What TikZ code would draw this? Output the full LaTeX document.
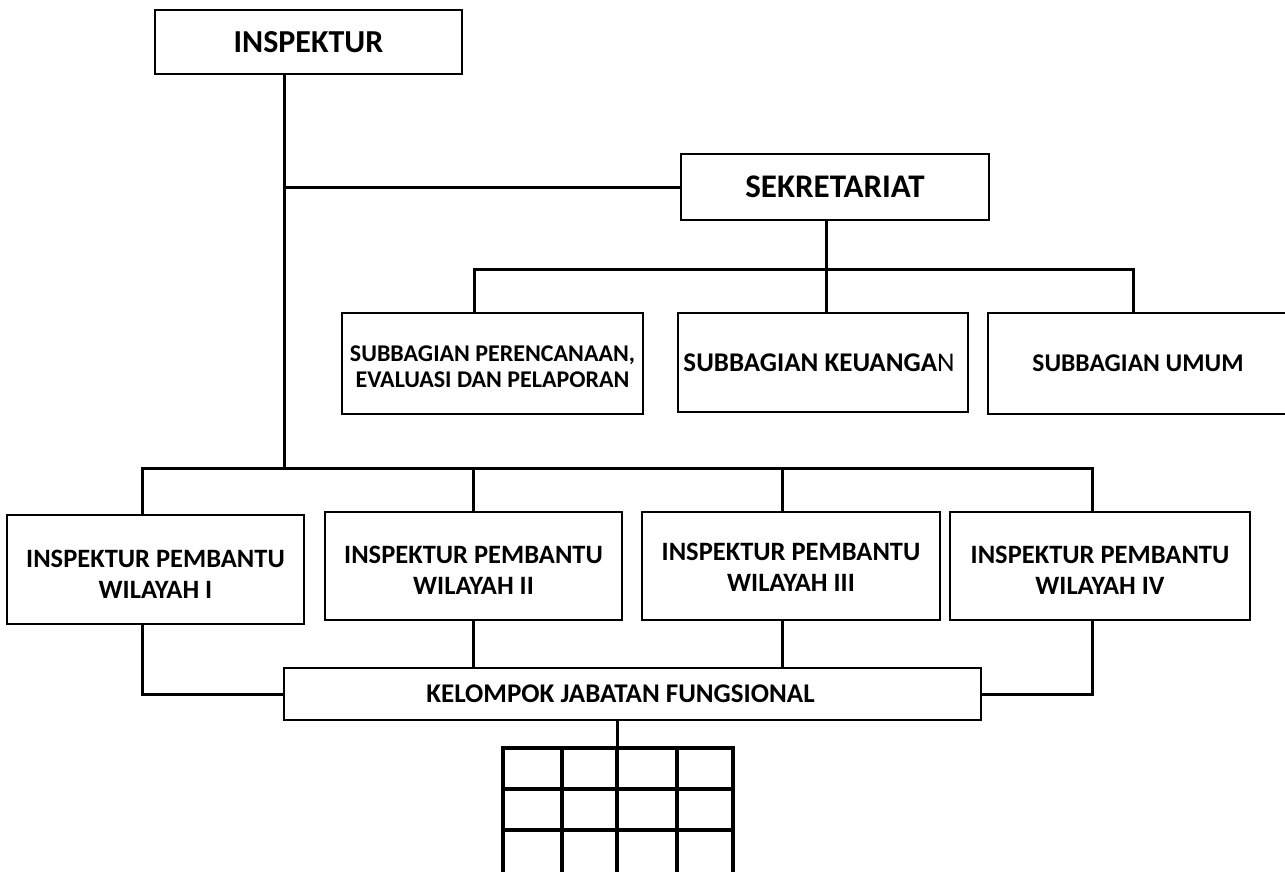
\documentclass[tikz,border=0pt]{standalone}
\usepackage{fontspec}
\setmainfont{Carlito}
\begin{document}
\begin{tikzpicture}[x=1pt,y=-1pt,
  box/.style={draw,line width=2.2pt,fill=white,inner sep=0pt,align=center,font=\bfseries},
  ipw/.style={box,minimum height=108pt,font=\bfseries\fontsize{26.5}{31}\selectfont,text height=57.5pt,text depth=0pt},
  conn/.style={line width=3pt},
  gridl/.style={line width=4pt}]
\useasboundingbox (0,0) rectangle (1285,871);
% nodes
\node[box,minimum width=307pt,minimum height=64pt,font=\bfseries\fontsize{32}{36}\selectfont] (insp) at (308.5,42) {INSPEKTUR};
\node[box,minimum width=308pt,minimum height=66pt,font=\bfseries\fontsize{33}{36}\selectfont] (sek) at (835,187) {SEKRETARIAT};
\node[box,minimum width=301pt,minimum height=101pt,font=\bfseries\fontsize{24}{26}\selectfont,text height=47pt,text depth=0pt] (sp) at (492.5,363.5) {SUBBAGIAN PERENCANAAN,\\EVALUASI DAN PELAPORAN};
\node[box,minimum width=290pt,minimum height=99pt,font=\bfseries\fontsize{27}{30}\selectfont] (sk) at (823,362.5) {SUBBAGIAN KEUANGA\mdseries N\hspace*{8pt}};
\node[box,minimum width=300pt,minimum height=101pt,font=\bfseries\fontsize{25.5}{30}\selectfont] (su) at (1138,363.5) {SUBBAGIAN UMUM};
\node[ipw,minimum width=297pt,minimum height=109pt] (ip1) at (155.5,569.5) {INSPEKTUR PEMBANTU\\WILAYAH I};
\node[ipw,minimum width=297pt] (ip2) at (473.5,566) {INSPEKTUR PEMBANTU\\WILAYAH II};
\node[ipw,minimum width=298pt,text height=51pt] (ip3) at (791,566) {INSPEKTUR PEMBANTU\\WILAYAH III};
\node[ipw,minimum width=300pt] (ip4) at (1100,566) {INSPEKTUR PEMBANTU\\WILAYAH IV};
\node[box,minimum width=697pt,minimum height=52pt,font=\bfseries\fontsize{27}{30}\selectfont] (kjf) at (632.5,694) {KELOMPOK JABATAN FUNGSIONAL\hspace*{24pt}};
% junction coordinates
\coordinate (ja) at (284,468);
\coordinate (l1) at (142,468);
\coordinate (l3) at (782,468);
\coordinate (l4) at (1092,468);
\coordinate (u1) at (474,269);
\coordinate (u2) at (826,269);
\coordinate (u3) at (1133,269);
\coordinate (g) at (617,748);
% connectors
\draw[conn] (insp.south -| ja) -- (ja);
\draw[conn] (insp.south -| ja) |- (sek.west);
\draw[conn] (sek.south -| u2) -- (u2);
\draw[conn] (sp.north -| u1) -- (u1) -- (u3) -- (su.north -| u3);
\draw[conn] (u2) -- (sk.north -| u2);
\draw[conn] (ip1.north -| l1) -- (l1) -- (l4) -- (ip4.north -| l4);
\draw[conn] (ip2.north) -- (ip2.north |- l1);
\draw[conn] (l3) -- (ip3.north -| l3);
\draw[conn] (ip1.south -| l1) |- (kjf.west);
\draw[conn] (ip4.south -| l4) |- (kjf.east);
\draw[conn] (ip2.south) -- (ip2.south |- kjf.north);
\draw[conn] (ip3.south -| l3) -- (kjf.north -| l3);
\draw[conn] (kjf.south -| g) -- (g);
% grid
\foreach \gx in {503,562,617,677,733} \draw[gridl] (\gx,746) -- (\gx,876);
\foreach \gy in {748,789,830} \draw[gridl] (501,\gy) -- (735,\gy);
\end{tikzpicture}
\end{document}
